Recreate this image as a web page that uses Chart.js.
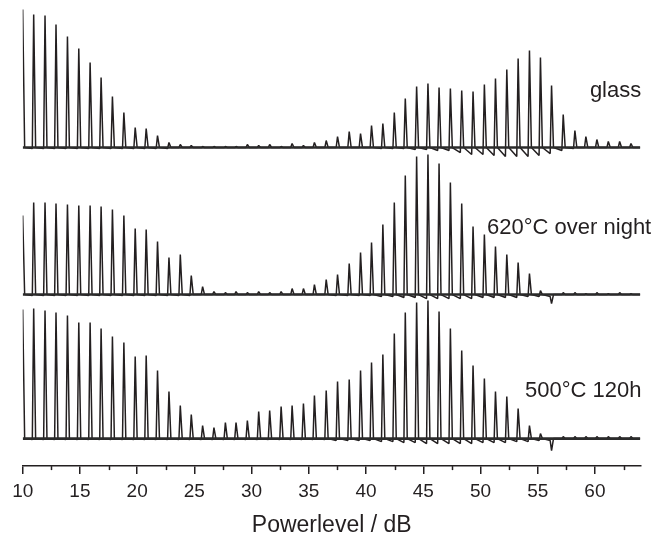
<!DOCTYPE html>
<html>
<head>
<meta charset="utf-8">
<title>Powerlevel spectra</title>
<script src="https://cdn.jsdelivr.net/npm/chart.js@4/dist/chart.umd.min.js"></script>
<style>
  html, body { margin: 0; padding: 0; background: #ffffff; }
  #wrap { width: 668px; height: 538px; }
</style>
</head>
<body>
<div id="wrap"><canvas id="chart" width="668" height="538"></canvas></div>
<script>
// Peak positions along the power axis (dB), shared by all three spectra
const PEAK_DB = [10.00, 10.96, 11.95, 12.91, 13.91, 14.90, 15.89, 16.85, 17.84, 18.84,
                 19.83, 20.79, 21.78, 22.78, 23.77, 24.73, 25.72, 26.71, 27.71, 28.64,
                 29.63, 30.62, 31.58, 32.58, 33.54, 34.53, 35.49, 36.52, 37.51, 38.53,
                 39.52, 40.48, 41.47, 42.47, 43.43, 44.42, 45.41, 46.38, 47.37, 48.36,
                 49.35, 50.34, 51.31, 52.30, 53.29, 54.28, 55.24, 56.21, 57.23, 58.25,
                 59.21, 60.17, 61.17, 62.16, 63.15];

// Sample names
const SAMPLES = ['glass', '620°C over night', '500°C 120h'];

// Peak intensities (arbitrary units) and the undershoot following each peak
const GLASS_PEAKS = [138, 133, 132, 123, 111, 99, 85, 70, 51, 35,
                     20, 19, 12, 5, 3, 2, 1, 1, 1, 1,
                     3, 2, 3, 1, 4, 2, 5, 7, 11, 16,
                     14, 22, 24, 35, 49, 61, 64, 60, 59, 57,
                     56, 63, 69, 78, 89, 97, 90, 62, 33, 17,
                     11, 8, 6, 6, 4];
const GLASS_DIPS = [1, 1, 1, 1, 1, 1, 1, 1, 1, 1,
                    1, 1, 1, 0, 0, 0, 0, 0, 0, 0,
                    0, 0, 0, 0, 0, 0, 0, 0, 0, 0,
                    0, 1, 1, 1, 2, 2, 3, 3, 5, 7,
                    7, 8, 9, 9, 9, 8, 6, 3, 1, 0,
                    0, 0, 0, 0, 0];

const T620_PEAKS = [79, 92, 92, 91, 90, 89, 89, 88, 85, 79,
                    66, 65, 53, 37, 40, 19, 8, 3, 2, 3,
                    2, 3, 2, 3, 6, 6, 10, 15, 20, 31,
                    42, 52, 70, 92, 119, 138, 140, 131, 112, 91,
                    68, 60, 48, 40, 32, 21, 4, -9, 2, 2,
                    1, 2, 1, 2, 1];
const T620_DIPS = [1, 1, 1, 1, 1, 1, 1, 1, 1, 1,
                   1, 1, 1, 1, 1, 0, 0, 0, 0, 0,
                   0, 0, 0, 0, 0, 0, 0, 1, 1, 1,
                   1, 2, 2, 3, 3, 4, 4, 4, 4, 4,
                   3, 3, 3, 3, 2, 2, 2, 0, 0, 0,
                   0, 0, 0, 0, 0];

const T500_PEAKS = [129, 130, 128, 126, 123, 116, 116, 110, 102, 96,
                    82, 83, 68, 47, 33, 24, 13, 11, 16, 16,
                    18, 27, 28, 32, 33, 35, 43, 48, 57, 59,
                    68, 76, 84, 105, 126, 136, 138, 127, 110, 88,
                    73, 60, 47, 42, 30, 13, 5, -12, 2, 2,
                    2, 2, 2, 2, 2];
const T500_DIPS = [1, 1, 1, 1, 1, 1, 1, 1, 1, 1,
                   1, 1, 1, 1, 1, 1, 1, 1, 1, 1,
                   1, 1, 1, 1, 1, 1, 1, 2, 2, 2,
                   2, 3, 3, 4, 4, 5, 5, 5, 5, 5,
                   4, 4, 4, 3, 3, 2, 2, 0, 0, 0,
                   0, 0, 0, 0, 0];

// Axis ticks
const MAJOR_TICKS = [10, 15, 20, 25, 30, 35, 40, 45, 50, 55, 60];
const MINOR_TICKS = [12.5, 17.5, 22.5, 27.5, 32.5, 37.5, 42.5, 47.5, 52.5, 57.5, 62.5];

// ---- layout and style ----
const X_MIN = 10, X_MAX = 64, X_END = 63.95;
const Y_MAX = 460;
const STACK_OFFSET = [318.5, 171.5, 27.5];     // vertical offset of each spectrum
const LABEL_ANCHOR = [                          // label position: dB and lift above baseline
  { x: 59.56, lift: 51 },
  { x: 50.58, lift: 61 },
  { x: 53.90, lift: 42 }
];
const RISE = 0.12, FALL = 0.17;                 // half-widths of a line on either side
const INK = '#231f20';
const FONT = "'Liberation Sans', Arial, Helvetica, sans-serif";

// Turns peak positions/heights into a polyline around a given baseline
function spectrum(heights, dips, base) {
  const pts = [];
  for (let i = 0; i < PEAK_DB.length; i++) {
    const x = PEAK_DB[i];
    if (i > 0) pts.push({ x: x - RISE, y: base - dips[i - 1] });
    pts.push({ x: x, y: base + heights[i] });
    pts.push({ x: x + FALL, y: base });
  }
  pts.push({ x: X_END, y: base });
  return pts;
}

const series = [
  [GLASS_PEAKS, GLASS_DIPS],
  [T620_PEAKS, T620_DIPS],
  [T500_PEAKS, T500_DIPS]
];

const datasets = [];
// Noise floor of each spectrum, drawn as a slightly heavier band
series.forEach((s, i) => {
  datasets.push({
    label: SAMPLES[i] + ' floor',
    data: [{ x: X_MIN, y: STACK_OFFSET[i] }, { x: X_END, y: STACK_OFFSET[i] }],
    borderColor: '#2b2b2b',
    borderWidth: 2.6,
    pointRadius: 0,
    tension: 0
  });
});
series.forEach((s, i) => {
  datasets.push({
    label: SAMPLES[i],
    data: spectrum(s[0], s[1], STACK_OFFSET[i]),
    borderColor: INK,
    borderWidth: 1.5,
    borderJoinStyle: 'bevel',
    pointRadius: 0,
    tension: 0
  });
});

// Sample names next to each spectrum, plus short minor ticks on the dB axis
const decorations = {
  id: 'decorations',
  afterDraw(chart) {
    const { ctx, chartArea } = chart;
    const xs = chart.scales.x, ys = chart.scales.y;
    ctx.save();
    ctx.strokeStyle = INK;
    ctx.lineWidth = 1.5;
    MINOR_TICKS.forEach(v => {
      const px = Math.round(xs.getPixelForValue(v)) + 0.5;
      ctx.beginPath();
      ctx.moveTo(px, chartArea.bottom);
      ctx.lineTo(px, chartArea.bottom + 4);
      ctx.stroke();
    });
    ctx.fillStyle = INK;
    ctx.font = '22px ' + FONT;
    ctx.textAlign = 'left';
    ctx.textBaseline = 'alphabetic';
    SAMPLES.forEach((name, i) => {
      const a = LABEL_ANCHOR[i];
      ctx.fillText(name, xs.getPixelForValue(a.x), ys.getPixelForValue(STACK_OFFSET[i] + a.lift));
    });
    ctx.restore();
  }
};

new Chart(document.getElementById('chart'), {
  type: 'line',
  data: { datasets },
  plugins: [decorations],
  options: {
    responsive: false,
    animation: false,
    devicePixelRatio: 1,
    layout: { padding: { left: 22.7, right: 27.3, top: 6, bottom: -1.5 } },
    plugins: { legend: { display: false }, tooltip: { enabled: false } },
    scales: {
      x: {
        type: 'linear',
        min: X_MIN,
        max: X_MAX,
        afterBuildTicks: scale => { scale.ticks = MAJOR_TICKS.map(v => ({ value: v })); },
        grid: { drawOnChartArea: false, drawTicks: true, tickLength: 8, color: INK, lineWidth: 1.5 },
        border: { display: true, color: INK, width: 1.5 },
        ticks: { color: INK, padding: 6, maxRotation: 0, font: { family: FONT, size: 19 } },
        title: {
          display: true,
          text: 'Powerlevel / dB',
          color: INK,
          padding: { top: 3, bottom: 0 },
          font: { family: FONT, size: 23 }
        }
      },
      y: { type: 'linear', display: false, min: 0, max: Y_MAX }
    }
  }
});
</script>
</body>
</html>
